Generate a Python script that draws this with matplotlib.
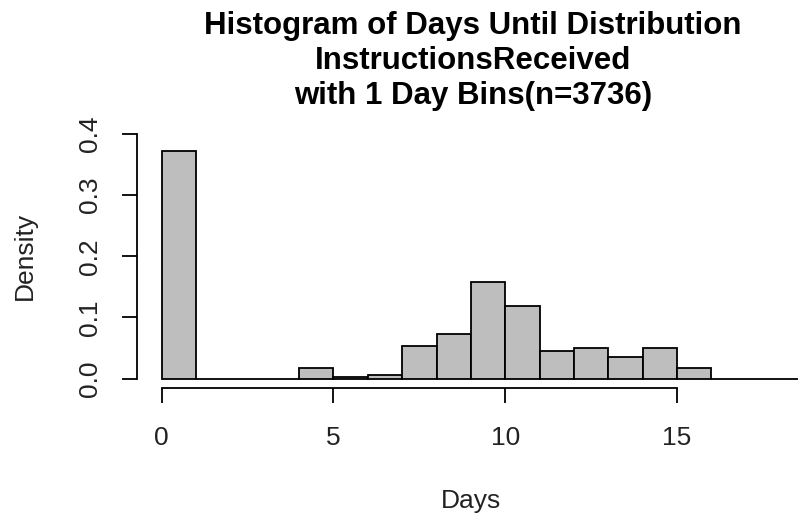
import numpy as np
import matplotlib.pyplot as plt

plt.rcParams["font.family"] = ["Liberation Sans", "DejaVu Sans"]

# 1-day bins, density per bin
bin_edges = list(range(0, 20))
density = [0.373, 0.0, 0.0, 0.0, 0.0164, 0.0027, 0.0055, 0.053, 0.0721,
           0.1574, 0.1186, 0.0448, 0.0497, 0.036, 0.0497, 0.017, 0.0, 0.0, 0.0]
x_ticks = [0, 5, 10, 15]
y_ticks = [0.0, 0.1, 0.2, 0.3, 0.4]
title_lines = ["Histogram of Days Until Distribution",
               "InstructionsReceived",
               "with 1 Day Bins(n=3736)"]

W, H = 798, 525
fig = plt.figure(figsize=(W / 100, H / 100), dpi=100)
ax = fig.add_axes([0.1717, 0.2604, 0.8367, 0.503])

ax.bar(bin_edges[:-1], density, width=1, align="edge",
       color="#bebebe", edgecolor="black", linewidth=1.3)

ax.set_xlim(-0.72, 18.72)
ax.set_ylim(-0.016, 0.416)

for s in ["top", "right"]:
    ax.spines[s].set_visible(False)
ax.spines["left"].set_bounds(0, 0.4)
ax.spines["bottom"].set_bounds(0, 15)
ax.spines["left"].set_linewidth(1.3)
ax.spines["bottom"].set_linewidth(1.3)

ax.set_xticks(x_ticks)
ax.set_xticklabels([str(v) for v in x_ticks])
ax.set_yticks(y_ticks)
ax.set_yticklabels([f"{v:.1f}" for v in y_ticks], rotation=90, va="center")
ax.tick_params(direction="out", length=11, width=1.3, labelsize=19,
               colors="black", pad=14)
ax.tick_params(axis="x", pad=16)
for lab in ax.get_xticklabels() + ax.get_yticklabels():
    lab.set_color("#222222")

ax.set_xlabel("Days", fontsize=19, labelpad=28, color="#222222")
ax.set_ylabel("Density", fontsize=19, labelpad=30, color="#222222")

# R-style title, one line at a time
for y_px, line in zip([34, 69, 104], title_lines):
    fig.text(473 / W, 1 - y_px / H, line, ha="center", va="baseline",
             fontsize=22.5, fontweight="bold")

fig.savefig("out.png", dpi=100)
